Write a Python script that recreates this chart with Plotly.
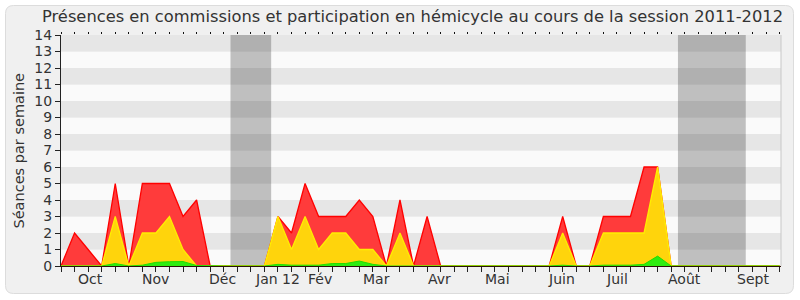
import plotly.graph_objects as go

weeks = list(range(54))
red = [0, 2, 1, 0, 5, 0, 5, 5, 5, 3, 4, 0, 0, 0, 0, 0, 3, 2, 5, 3, 3, 3, 4, 3, 0, 4, 0, 3, 0,
       0, 0, 0, 0, 0, 0, 0, 0, 3, 0, 0, 3, 3, 3, 6, 6, 0, 0, 0, 0, 0, 0, 0, 0, 0]
yellow = [0, 0, 0, 0, 3, 0, 2, 2, 3, 1, 0, 0, 0, 0, 0, 0, 3, 1, 3, 1, 2, 2, 1, 1, 0, 2, 0, 0, 0,
          0, 0, 0, 0, 0, 0, 0, 0, 2, 0, 0, 2, 2, 2, 2, 6, 0, 0, 0, 0, 0, 0, 0, 0, 0]
green = [0, 0, 0, 0, 0.15, 0, 0.05, 0.22, 0.26, 0.27, 0.03, 0, 0, 0, 0, 0, 0.1, 0.05, 0.05, 0.05,
         0.15, 0.15, 0.3, 0.1, 0, 0, 0, 0, 0, 0, 0, 0, 0, 0, 0, 0, 0, 0.05, 0, 0, 0.05, 0.05, 0.05,
         0.1, 0.6, 0, 0, 0, 0, 0, 0, 0, 0, 0]
month_labels = ["Oct", "Nov", "Déc", "Jan 12", "Fév", "Mar", "Avr", "Mai", "Juin", "Juil", "Août", "Sept"]
month_pos = [2.14, 6.96, 11.93, 15.94, 19.1, 23.3, 27.9, 32.2, 36.9, 41.0, 46.0, 51.04]
vacations = [(12.5, 15.5), (45.5, 50.5)]
y_ticks = list(range(15))

title = "Présences en commissions et participation en hémicycle au cours de la session 2011-2012"
FONT = "DejaVu Sans"
TXT = "#333333"

L, R, T, B = 61, 781, 35, 266
W, H = R - L, B - T
def px(x):
    return (x - L) / W
def py(y):
    return (B - y) / H

fig = go.Figure()
fig.add_trace(go.Scatter(x=weeks, y=red, mode="lines", fill="tozeroy",
                         line=dict(color="#ff0000", width=1.3), fillcolor="#ff3b3b",
                         hoverinfo="skip", showlegend=False))
fig.add_trace(go.Scatter(x=weeks, y=yellow, mode="lines", fill="tozeroy",
                         line=dict(color="#ffee00", width=1.3), fillcolor="#ffd40c",
                         hoverinfo="skip", showlegend=False))
fig.add_trace(go.Scatter(x=weeks, y=green, mode="lines", fill="tozeroy",
                         line=dict(color="#22dd00", width=1), fillcolor="#2eec10",
                         hoverinfo="skip", showlegend=False))
# invisible trace for top axis
fig.add_trace(go.Scatter(x=[0], y=[0], xaxis="x2", mode="markers",
                         marker=dict(opacity=0), hoverinfo="skip", showlegend=False))

shapes = []
# outer rounded frame
x0, x1, y0, y1, r = px(5.5), px(793.5), py(293.5), py(5.5), 8
rx, ry = r / W, r / H
path = (f"M {x0+rx},{y1} L {x1-rx},{y1} Q {x1},{y1} {x1},{y1-ry} L {x1},{y0+ry} "
        f"Q {x1},{y0} {x1-rx},{y0} L {x0+rx},{y0} Q {x0},{y0} {x0},{y0+ry} L {x0},{y1-ry} "
        f"Q {x0},{y1} {x0+rx},{y1} Z")
shapes.append(dict(type="path", xref="paper", yref="paper", path=path,
                   fillcolor="#f0f0f0", line=dict(color="#dcdcdc", width=1), layer="below"))
# stripes
for k in range(14):
    shapes.append(dict(type="rect", xref="paper", yref="y", x0=0, x1=1, y0=k, y1=k + 1,
                       fillcolor="#e6e6e6" if k % 2 == 1 else "#fafafa",
                       line=dict(width=0), layer="below"))
for a, b in vacations:
    shapes.append(dict(type="rect", xref="x", yref="paper", x0=a, x1=b, y0=0, y1=1,
                       fillcolor="rgba(0,0,0,0.235)", line=dict(width=0), layer="below"))
shapes.append(dict(type="line", xref="paper", yref="paper", x0=1, x1=1, y0=0, y1=1,
                   line=dict(color="#c8c8c8", width=1)))

annotations = []
for lab, pos in zip(month_labels, month_pos):
    annotations.append(dict(text=lab, x=pos, xref="x", y=py(279), yref="paper",
                            showarrow=False, xanchor="center", yanchor="middle",
                            font=dict(family=FONT, size=14, color=TXT)))
annotations.append(dict(text="Séances par semaine", x=px(18), xref="paper", y=0.5, yref="paper",
                        textangle=-90, showarrow=False, xanchor="center", yanchor="middle",
                        font=dict(family=FONT, size=14.5, color=TXT)))
annotations.append(dict(text=title, x=px(412), xref="paper", y=py(17), yref="paper",
                        showarrow=False, xanchor="center", yanchor="middle",
                        font=dict(family=FONT, size=16.3, color=TXT)))

xr = [0, 53.1]
fig.update_layout(
    width=800, height=300,
    margin=dict(l=L, r=800 - R, t=T, b=300 - B, pad=0),
    paper_bgcolor="white", plot_bgcolor="rgba(0,0,0,0)",
    shapes=shapes, annotations=annotations,
    xaxis=dict(range=xr, tickmode="array", tickvals=weeks, showticklabels=False,
               ticks="outside", ticklen=5, tickcolor="#222", tickwidth=1,
               showline=True, linecolor="#2a1208", linewidth=1, showgrid=False, zeroline=False,
               fixedrange=True),
    xaxis2=dict(range=xr, overlaying="x", side="top", tickmode="array", tickvals=weeks,
                showticklabels=False, ticks="outside", ticklen=2, tickcolor="#111",
                showline=False, showgrid=False, zeroline=False, fixedrange=True),
    yaxis=dict(range=[0, 14], tickmode="array", tickvals=y_ticks, ticks="outside", ticklen=5,
               tickcolor="#222", showline=True, linecolor="#222", linewidth=1,
               showgrid=False, zeroline=False, tickfont=dict(family=FONT, size=14, color=TXT),
               fixedrange=True),
)
fig.write_html("out.html")
